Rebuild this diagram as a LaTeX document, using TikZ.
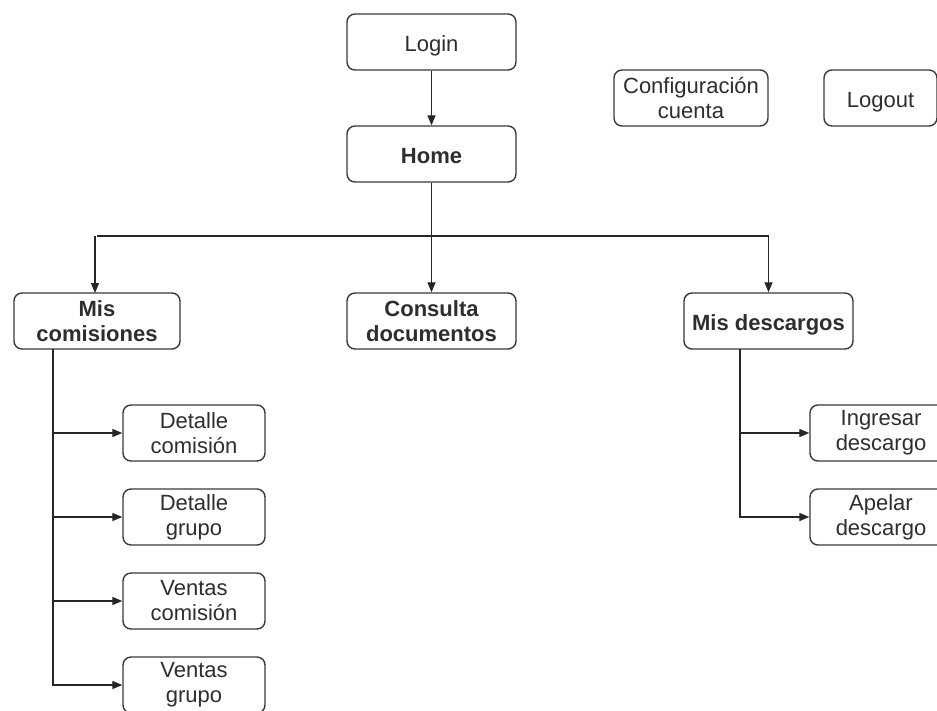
\documentclass[tikz,border=0pt]{standalone}
\usepackage{fontspec}
\setmainfont{Liberation Sans}
\usetikzlibrary{arrows.meta}
\definecolor{edge}{HTML}{3A3A3A}
\definecolor{ink}{HTML}{2E2E2E}
\tikzset{
  box/.style={draw=edge, line width=1.4pt, rounded corners=8pt, fill=white,
    text=ink, align=center, inner sep=0pt, minimum height=56pt,
    font=\fontsize{22}{25}\selectfont},
  bbox/.style={box, font=\fontsize{22}{25}\selectfont\bfseries},
  oneline/.style={text height=20pt, text depth=2pt},
  link/.style={draw=black!85, line width=1.3pt},
  arr/.style={link, -{Triangle[length=10pt,width=8pt]}}
}
\begin{document}
\begin{tikzpicture}[x=1pt,y=-1pt]
\useasboundingbox (0,0) rectangle (937,710);
\clip (0,0) rectangle (937,710);

% top row
\node[box, oneline, minimum width=169pt] (login) at (431.5,42) {Login};
\node[bbox, oneline, minimum width=169pt] (home) at (431.5,154) {Home};
\node[box, minimum width=154pt] (conf) at (691,98) {Configuración\\cuenta};
\node[box, oneline, minimum width=113pt] (logout) at (880.5,98) {Logout};

% second level
\node[bbox, minimum width=166pt] (mc) at (97,321) {Mis\\comisiones};
\node[bbox, minimum width=169pt] (cd) at (431.5,321) {Consulta\\documentos};
\node[bbox, oneline, minimum width=169pt] (md) at (768.5,321) {Mis descargos};

% commission pages
\node[box, minimum width=142pt] (dc) at (194,433) {Detalle\\comisión};
\node[box, minimum width=142pt] (dg) at (194,517) {Detalle\\grupo};
\node[box, minimum width=142pt] (vc) at (194,601) {Ventas\\comisión};
\node[box, minimum width=142pt] (vg) at (194,685) {Ventas\\grupo};

% discharge pages
\node[box, minimum width=142pt] (id) at (881,433) {Ingresar\\descargo};
\node[box, minimum width=142pt] (ad) at (881,517) {Apelar\\descargo};

% junction points
\coordinate (hj) at (431.5,236);
\coordinate (mcbus) at (53,349);
\coordinate (mdbus) at (740,349);

% connectors
\draw[arr] (login) -- (home);
\draw[arr] (home) -- (cd);
\draw[link] (95,236 -| mc.north) -- (hj -| md.north);
\draw[arr] (hj -| 95,0) -- (95,293);
\draw[arr] (hj -| md.north) -- (md.north);

\draw[arr] (mcbus) |- (dc.west);
\draw[arr] (mcbus) |- (dg.west);
\draw[arr] (mcbus) |- (vc.west);
\draw[arr] (mcbus) |- (vg.west);

\draw[arr] (mdbus) |- (id.west);
\draw[arr] (mdbus) |- (ad.west);
\end{tikzpicture}
\end{document}
